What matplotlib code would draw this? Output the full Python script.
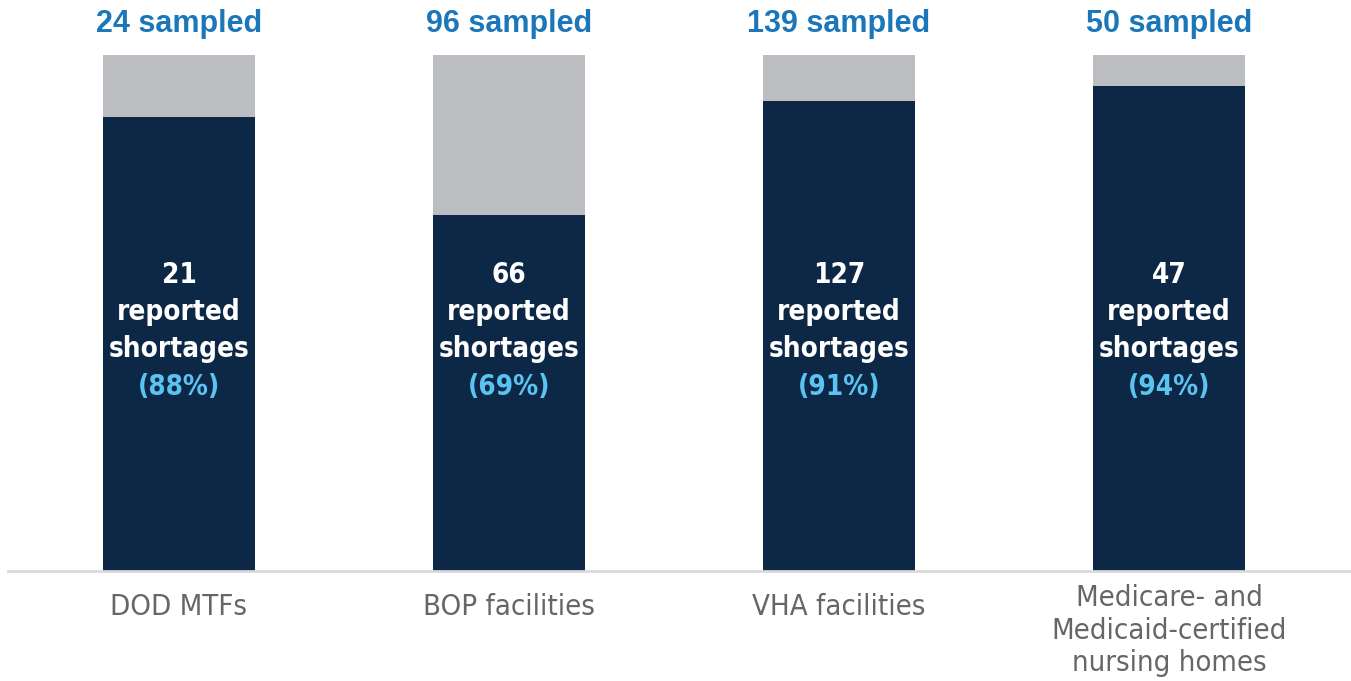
import matplotlib
matplotlib.use("Agg")
import matplotlib.pyplot as plt

# data
categories = ["DOD MTFs", "BOP facilities", "VHA facilities",
              "Medicare- and\nMedicaid-certified\nnursing homes"]
sampled = [24, 96, 139, 50]
reported = [21, 66, 127, 47]
pct_labels = ["88%", "69%", "91%", "94%"]
share = [0.88, 0.69, 0.91, 0.94]

NAVY = "#0C2846"
GREY = "#BCBDC0"
BLUE = "#1B76BA"
LIGHT = "#5BC3F1"
LABEL = "#666666"

fig = plt.figure(figsize=(13.51, 6.81), dpi=100)
ax = fig.add_axes([8 / 1351, 110 / 681, 1 - 8 / 1351, 516 / 681])

x = list(range(len(categories)))
rest = [1 - s for s in share]
ax.bar(x, share, width=0.46, color=NAVY, zorder=2)
ax.bar(x, rest, bottom=share, width=0.46, color=GREY, zorder=2)

ax.set_xlim(-171 / 330, 3 + 182 / 330)
ax.set_ylim(0, 1)
for s in ["top", "right", "left"]:
    ax.spines[s].set_visible(False)
ax.spines["bottom"].set_color("#D9D9D9")
ax.spines["bottom"].set_linewidth(2)
ax.set_yticks([])
ax.set_xticks([])

cond = dict(family="DejaVu Sans", fontstretch="condensed")
for i in x:
    ax.text(i, 1.06, f"{sampled[i]} sampled", ha="center", va="center",
            fontsize=22, fontweight="bold", color=BLUE, family="Liberation Sans")
    # text inside the navy part
    lines = [str(reported[i]), "reported", "shortages"]
    ys = [0.574, 0.502, 0.430]
    for txt, yy in zip(lines, ys):
        ax.text(i, yy, txt, ha="center", va="center", fontsize=20,
                fontweight="bold", color="white", **cond)
    ax.text(i, 0.357, f"({pct_labels[i]})", ha="center", va="center",
            fontsize=20, fontweight="bold", color=LIGHT, **cond)
    n = categories[i].count("\n")
    ax.text(i, -0.07 - 0.023 * n, categories[i], ha="center", va="center",
            fontsize=21, color=LABEL, linespacing=1.2, **cond)

fig.savefig("out.png", dpi=100)
